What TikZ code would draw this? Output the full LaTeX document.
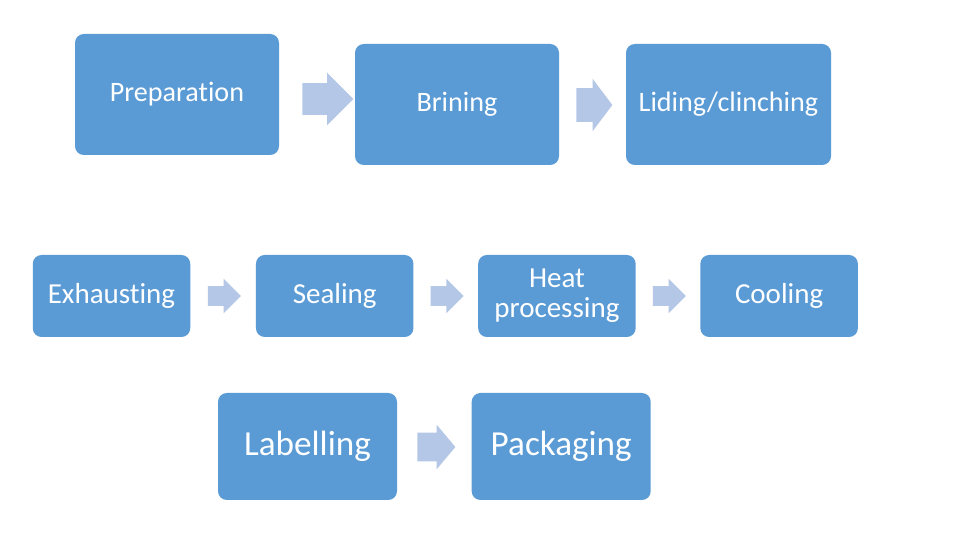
\documentclass[tikz,border=0pt]{standalone}
\usepackage{fontspec}
\setmainfont[Ligatures={NoCommon}]{Carlito}
\usepackage{tikz}
\usetikzlibrary{shapes.arrows, positioning, calc}

\definecolor{stageblue}{HTML}{5B9BD5}
\definecolor{arrowblue}{HTML}{B4C7E7}

\begin{document}
\begin{tikzpicture}[
    stage/.style={
        rectangle, rounded corners=5pt, fill=stageblue, draw=none,
        text=white, align=center, inner sep=2pt
    },
    toprow/.style={stage, minimum width=4.08cm, minimum height=2.42cm,
                   font=\fontsize{16}{19}\selectfont},
    midrow/.style={stage, minimum width=3.15cm, minimum height=1.64cm,
                   font=\fontsize{16.5}{17}\selectfont},
    lowrow/.style={stage, minimum width=3.58cm, minimum height=2.14cm,
                   font=\fontsize{20}{24}\selectfont},
    flowarrow/.style={
        single arrow, fill=arrowblue, draw=none, inner xsep=0pt,
        shape border rotate=0, anchor=tail
    },
    smallarrow/.style={flowarrow, minimum height=0.66cm, inner ysep=0.19cm,
                       single arrow head extend=0.15cm, xshift=-0.31cm}
]
\fill[white] (0,0) rectangle (19.2,10.8);
\useasboundingbox (0,0) rectangle (19.2,10.8);

% first row
\node[toprow] (prep) at (3.54,8.91) {Preparation};
\node[toprow] (brin) at (9.14,8.71) {Brining};
\node[toprow, minimum width=4.1cm] (lid) at (14.57,8.71) {Liding/clinching};

% second row
\node[midrow] (exh) at (2.23,4.88) {Exhausting};
\node[midrow, right=1.3cm of exh] (seal) {Sealing};
\node[midrow, right=1.28cm of seal] (heat) {Heat\\processing};
\node[midrow, right=1.28cm of heat] (cool) {Cooling};

% third row
\node[lowrow] (lab) at (6.15,1.87) {Labelling};
\node[lowrow, right=1.48cm of lab] (pack) {Packaging};

% block arrows between the stages
\node[flowarrow, minimum height=1.02cm, inner ysep=0.31cm,
      single arrow head extend=0.21cm] (a1) at (6.04,8.82) {};
\node[flowarrow, minimum height=0.72cm, inner ysep=0.33cm,
      single arrow head extend=0.19cm, single arrow tip angle=106] (a2) at (11.52,8.70) {};
\node[smallarrow] (a3) at ($(exh.east)!0.5!(seal.west)$) {};
\node[smallarrow] (a4) at ($(seal.east)!0.5!(heat.west)$) {};
\node[smallarrow] (a5) at ($(heat.east)!0.5!(cool.west)$) {};
\node[flowarrow, minimum height=0.76cm, inner ysep=0.28cm,
      single arrow head extend=0.16cm, single arrow tip angle=100] (a6) at (8.34,1.86) {};
\end{tikzpicture}
\end{document}
